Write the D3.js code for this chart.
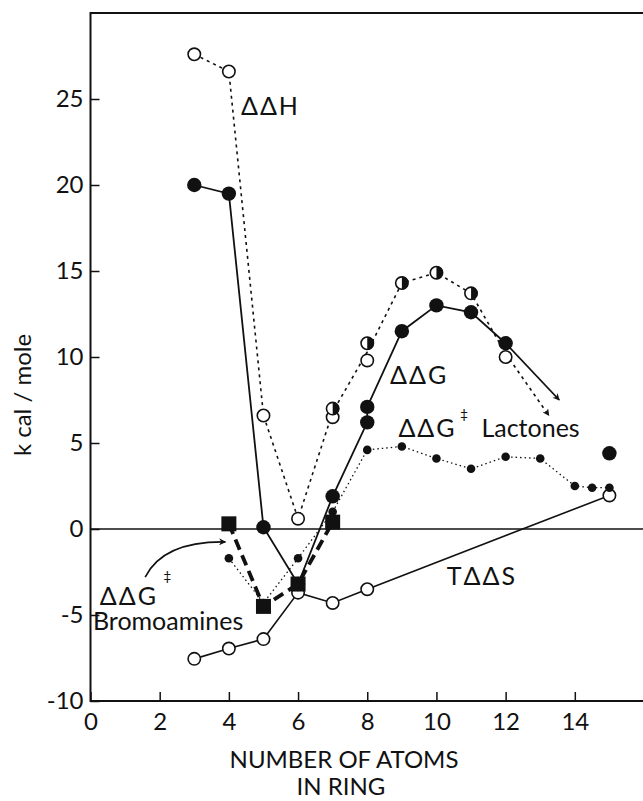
<!DOCTYPE html>
<html>
<head>
<meta charset="utf-8">
<script src="https://cdn.jsdelivr.net/npm/d3@7"></script>
<style>
  body { margin: 0; background: #fff; }
  svg text { font-family: Lato, "DejaVu Sans", sans-serif; fill: #111; }
</style>
</head>
<body>
<div id="chart"></div>
<script>
// ring size (number of atoms) and energies in kcal/mole
const ddhOpenN = [3, 4, 5, 6, 7, 8, 12]
const ddhOpenV = [27.6, 26.6, 6.6, 0.6, 6.5, 9.8, 10.0]
const ddhHalfN = [7, 8, 9, 10, 11]
const ddhHalfV = [7.0, 10.8, 14.3, 14.9, 13.7]
const ddhLineN = [3, 4, 5, 6, 7, 8, 9, 10, 11, 12]
const ddhLineV = [27.6, 26.6, 6.6, 0.6, 6.8, 10.3, 14.3, 14.9, 13.7, 10.2]
const ddhArrow = [[12, 10.2], [13.25, 6.6]]

const ddgN = [3, 4, 5, 6, 7, 8, 8, 9, 10, 11, 12]
const ddgV = [20.0, 19.5, 0.1, -3.2, 1.9, 6.2, 7.1, 11.5, 13.0, 12.6, 10.8]
const ddgExtraN = [15]
const ddgExtraV = [4.4]
const ddgArrow = [[12, 10.8], [13.55, 7.5]]

const bromoN = [4, 5, 6, 7]
const bromoV = [0.3, -4.5, -3.2, 0.4]

const lactN = [4, 5, 6, 7, 8, 9, 10, 11, 12, 13, 14, 14.5, 15]
const lactV = [-1.7, -4.3, -1.7, 1.0, 4.6, 4.8, 4.1, 3.5, 4.2, 4.1, 2.5, 2.4, 2.4]

const tdsN = [3, 4, 5, 6, 7, 8, 15]
const tdsV = [-7.55, -6.95, -6.4, -3.7, -4.3, -3.5, 1.95]

const xTicks = [0, 2, 4, 6, 8, 10, 12, 14]
const yTicks = [-10, -5, 0, 5, 10, 15, 20, 25]

const zip = (a, b) => a.map((d, i) => ({ n: d, v: b[i] }))

const width = 643
const height = 801
const margin = { top: 13, right: -1, bottom: 100, left: 90.5 }

const svg = d3.select('#chart').append('svg')
  .attr('width', width)
  .attr('height', height)

const x = d3.scaleLinear().domain([0, 16]).range([margin.left, width - margin.right])
const y = d3.scaleLinear().domain([-10, 30]).range([height - margin.bottom, margin.top])

// arrowhead
svg.append('defs').append('marker')
  .attr('id', 'head')
  .attr('viewBox', '0 0 10 10')
  .attr('refX', 9).attr('refY', 5)
  .attr('markerWidth', 13).attr('markerHeight', 7)
  .attr('markerUnits', 'userSpaceOnUse')
  .attr('orient', 'auto')
  .append('path').attr('d', 'M0,0 L10,5 L0,10 L3,5 Z').attr('fill', '#111')

// frame
svg.append('rect')
  .attr('x', x(0)).attr('y', y(30))
  .attr('width', x(16) - x(0)).attr('height', y(-10) - y(30))
  .attr('fill', 'none').attr('stroke', '#111').attr('stroke-width', 2)

// axes, ticks pointing inward
const yAxis = d3.axisLeft(y).tickValues(yTicks).tickSize(-9).tickSizeOuter(0).tickPadding(7).tickFormat(d3.format('d'))
const xAxis = d3.axisBottom(x).tickValues(xTicks).tickSize(-9).tickSizeOuter(0).tickPadding(12).tickFormat(d3.format('d'))
const gy = svg.append('g').attr('transform', `translate(${x(0)},0)`).call(yAxis)
const gx = svg.append('g').attr('transform', `translate(0,${y(-10)})`).call(xAxis)
;[gx, gy].forEach(g => {
  g.select('.domain').remove()
  g.selectAll('line').attr('stroke', '#111').attr('stroke-width', 1.5)
  g.selectAll('text').style('font-size', '24px').attr('fill', '#111')
    .style('font-family', 'Lato, "DejaVu Sans", sans-serif')
})
gy.selectAll('text').text(d => d < 0 ? '-' + Math.abs(d) : d)

// zero line
svg.append('line')
  .attr('x1', x(0)).attr('x2', x(16))
  .attr('y1', y(0)).attr('y2', y(0))
  .attr('stroke', '#111').attr('stroke-width', 1.6)

const line = d3.line().x(d => x(d.n)).y(d => y(d.v))

// lines
svg.append('path').datum(zip(ddhLineN, ddhLineV)).attr('d', line)
  .attr('fill', 'none').attr('stroke', '#111').attr('stroke-width', 1.6).attr('stroke-dasharray', '3,4')
svg.append('path').datum(ddhArrow.map(d => ({ n: d[0], v: d[1] }))).attr('d', line)
  .attr('fill', 'none').attr('stroke', '#111').attr('stroke-width', 1.6).attr('stroke-dasharray', '3,4')
  .attr('marker-end', 'url(#head)')
svg.append('path').datum(zip(ddgN, ddgV)).attr('d', line)
  .attr('fill', 'none').attr('stroke', '#111').attr('stroke-width', 1.8)
svg.append('path').datum(ddgArrow.map(d => ({ n: d[0], v: d[1] }))).attr('d', line)
  .attr('fill', 'none').attr('stroke', '#111').attr('stroke-width', 1.8)
  .attr('marker-end', 'url(#head)')
svg.append('path').datum(zip(lactN, lactV)).attr('d', line)
  .attr('fill', 'none').attr('stroke', '#111').attr('stroke-width', 1.3).attr('stroke-dasharray', '1.5,3')
svg.append('path').datum(zip(tdsN, tdsV)).attr('d', line)
  .attr('fill', 'none').attr('stroke', '#111').attr('stroke-width', 1.6)
svg.append('path').datum(zip(bromoN, bromoV)).attr('d', line)
  .attr('fill', 'none').attr('stroke', '#111').attr('stroke-width', 3.8).attr('stroke-dasharray', '11,6')

// curved arrow toward the bromoamine points
const cp = d3.path()
cp.moveTo(x(1.58), y(-2.8))
cp.quadraticCurveTo(x(2.1), y(-0.7), x(3.9), y(-0.75))
svg.append('path').attr('d', cp.toString())
  .attr('fill', 'none').attr('stroke', '#111').attr('stroke-width', 1.6)
  .attr('marker-end', 'url(#head)')

// markers
const dots = (data, r, fill, sw) => svg.append('g').selectAll('circle').data(data).join('circle')
  .attr('cx', d => x(d.n)).attr('cy', d => y(d.v)).attr('r', r)
  .attr('fill', fill).attr('stroke', '#111').attr('stroke-width', sw)

dots(zip(tdsN, tdsV), 6.2, '#fff', 1.6)
dots(zip(ddhOpenN, ddhOpenV), 6.2, '#fff', 1.6)
dots(zip(ddgN, ddgV), 7.2, '#111', 0)
dots(zip(ddgExtraN, ddgExtraV), 7.2, '#111', 0)

// half filled circles
const half = svg.append('g').selectAll('g').data(zip(ddhHalfN, ddhHalfV)).join('g')
  .attr('transform', d => `translate(${x(d.n)},${y(d.v)})`)
half.append('circle').attr('r', 6.2).attr('fill', '#fff').attr('stroke', '#111').attr('stroke-width', 1.6)
half.append('path').attr('d', d3.arc()({ innerRadius: 0, outerRadius: 6.6, startAngle: 0, endAngle: Math.PI }))
  .attr('fill', '#111')

dots(zip(lactN, lactV), 4.3, '#111', 0)

svg.append('g').selectAll('rect').data(zip(bromoN, bromoV)).join('rect')
  .attr('x', d => x(d.n) - 7.5).attr('y', d => y(d.v) - 7.5)
  .attr('width', 15).attr('height', 15).attr('fill', '#111')

// labels
const label = (n, v, txt, size) => svg.append('text')
  .attr('x', x(n)).attr('y', y(v)).style('font-size', size + 'px').text(txt)

label(4.35, 24.05, 'ΔΔH', 25).style('letter-spacing', '2px')
label(8.66, 8.45, 'ΔΔG', 25).style('letter-spacing', '2px')
label(8.9, 5.35, 'ΔΔG', 25).style('letter-spacing', '2px')
label(10.68, 6.4, '‡', 14)
label(11.3, 5.35, 'Lactones', 25)
label(10.3, -3.25, 'TΔΔS', 25).style('letter-spacing', '2px')
label(0.27, -4.4, 'ΔΔG', 25).style('letter-spacing', '2px')
label(2.1, -3.0, '‡', 14)
label(0.07, -5.87, 'Bromoamines', 25)

// axis titles
svg.append('text')
  .attr('transform', `translate(31,${395}) rotate(-90)`)
  .attr('text-anchor', 'middle').style('font-size', '24px').text('k cal / mole')
svg.append('text').attr('x', 344).attr('y', 768)
  .attr('text-anchor', 'middle').style('font-size', '24px').text('NUMBER OF ATOMS')
svg.append('text').attr('x', 341).attr('y', 795)
  .attr('text-anchor', 'middle').style('font-size', '24px').text('IN RING')
</script>
</body>
</html>
